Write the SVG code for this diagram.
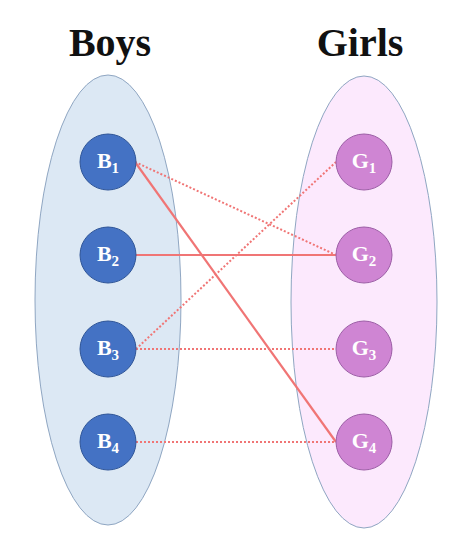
<svg xmlns="http://www.w3.org/2000/svg" width="470" height="546" viewBox="0 0 470 546">
<style>
.title{font-family:"Liberation Serif","DejaVu Serif",serif;font-weight:bold;font-size:40px;fill:#111;text-anchor:middle}
.lbl{font-family:"Liberation Serif","DejaVu Serif",serif;font-weight:bold;font-size:22px;fill:#fff;text-anchor:middle}
.sub{font-size:15px}
.boy{fill:#4472c4;stroke:#2f5597;stroke-width:1}
.girl{fill:#cf85d3;stroke:#9c5ea6;stroke-width:1}
.solid{stroke:#f07575;stroke-width:2.2;fill:none}
.dot{stroke:#f07575;stroke-width:2;stroke-dasharray:2 2;fill:none}
</style>
<rect width="470" height="546" fill="#fff"/>
<text class="title" x="110" y="56">Boys</text>
<text class="title" x="360" y="56">Girls</text>
<ellipse id="boys-set" cx="108" cy="300" rx="73" ry="225" fill="#dce8f4" stroke="#8fa6c2" stroke-width="1"/>
<ellipse id="girls-set" cx="364" cy="302" rx="73" ry="226" fill="#fce9fd" stroke="#8fa6c2" stroke-width="1"/>
<g id="connectors">
<line class="dot" x1="135" y1="162" x2="336" y2="255"/>
<line class="solid" x1="135" y1="162" x2="336" y2="442"/>
<line class="solid" x1="136" y1="255" x2="336" y2="255"/>
<line class="dot" x1="136" y1="349" x2="336" y2="162"/>
<line class="dot" x1="136" y1="349" x2="336" y2="349"/>
<line class="dot" x1="136" y1="442" x2="336" y2="442"/>
</g>
<g id="B1"><circle class="boy" cx="108" cy="162" r="28"/><text class="lbl" x="108" y="168">B<tspan class="sub" dy="5">1</tspan></text></g>
<g id="B2"><circle class="boy" cx="108" cy="255" r="28"/><text class="lbl" x="108" y="261">B<tspan class="sub" dy="5">2</tspan></text></g>
<g id="B3"><circle class="boy" cx="108" cy="349" r="28"/><text class="lbl" x="108" y="355">B<tspan class="sub" dy="5">3</tspan></text></g>
<g id="B4"><circle class="boy" cx="108" cy="442" r="28"/><text class="lbl" x="108" y="448">B<tspan class="sub" dy="5">4</tspan></text></g>
<g id="G1"><circle class="girl" cx="364" cy="162" r="28"/><text class="lbl" x="364" y="168">G<tspan class="sub" dy="5">1</tspan></text></g>
<g id="G2"><circle class="girl" cx="364" cy="255" r="28"/><text class="lbl" x="364" y="261">G<tspan class="sub" dy="5">2</tspan></text></g>
<g id="G3"><circle class="girl" cx="364" cy="349" r="28"/><text class="lbl" x="364" y="355">G<tspan class="sub" dy="5">3</tspan></text></g>
<g id="G4"><circle class="girl" cx="364" cy="442" r="28"/><text class="lbl" x="364" y="448">G<tspan class="sub" dy="5">4</tspan></text></g>
</svg>
